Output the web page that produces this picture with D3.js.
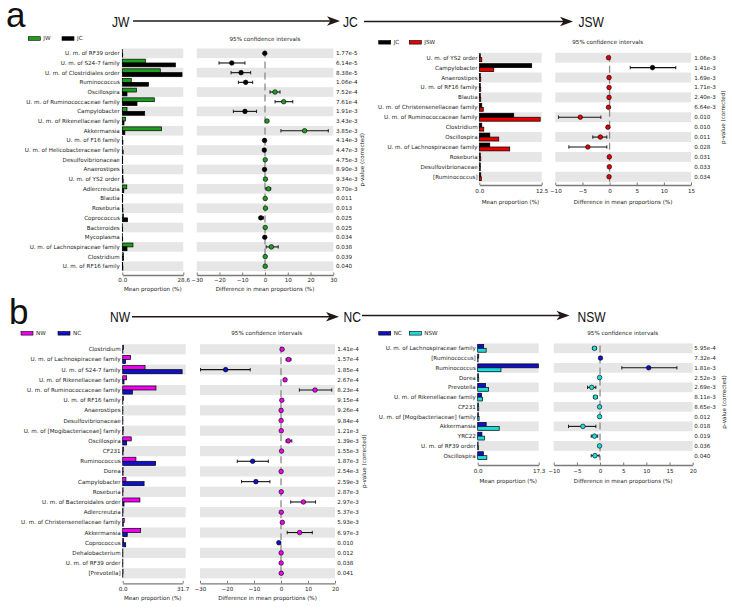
<!DOCTYPE html>
<html>
<head>
<meta charset="utf-8">
<script src="https://cdn.jsdelivr.net/npm/d3@7/dist/d3.min.js"></script>
<style>
body { margin: 0; background: #fff; }
svg text { font-family: "DejaVu Sans", sans-serif; fill: #222; }
</style>
</head>
<body>
<svg id="fig" width="732" height="609"></svg>
<script>
/* data: panel a, JW -> JC */
var aL_taxa = ["U. m. of RF39 order", "U. m. of S24-7 family", "U. m. of Clostridiales order", "Ruminococcus",
	"Oscillospira", "U. m. of Ruminococcaceae family", "Campylobacter", "U. m. of Rikenellaceae family",
	"Akkermansia", "U. m. of F16 family", "U. m. of Helicobacteraceae family", "Desulfovibrionaceae",
	"Anaerostipes", "U. m. of YS2 order", "Adlercreutzia", "Blautia", "Roseburia", "Coprococcus",
	"Bacteroides", "Mycoplasma", "U. m. of Lachnospiraceae family", "Clostridium", "U. m. of RF16 family"];
var aL_JW = [0.05, 10.8, 17.8, 4.2, 6.6, 15.0, 2.2, 1.5, 18.4, 0.05, 0.05, 0.2, 0.1, 0.3, 2.1, 0.2, 0.2, 0.6, 0.1, 0.05, 5.0, 0.5, 0.2];
var aL_JC = [0.2, 24.9, 28.0, 12.3, 2.2, 6.9, 10.5, 0.8, 1.2, 0.3, 0.4, 0.2, 0.3, 0.4, 0.7, 0.2, 0.3, 2.5, 0.2, 0.2, 2.2, 0.6, 0.3];
var aL_diff = [-0.1, -14.6, -10.5, -8.5, 4.4, 8.2, -8.8, 0.9, 17.4, -0.2, -0.3, 0.1, -0.2, 0.2, 1.5, 0.1, 0.2, -1.8, 0.1, -0.1, 2.8, 0.1, 0.1];
var aL_lo = [-0.3, -20.2, -14.9, -11.7, 2.2, 4.4, -13.9, 0.6, 7.0, -0.4, -0.5, 0.0, -0.4, 0.05, 0.4, 0.0, 0.05, -2.6, 0.0, -0.2, 0.5, 0.0, 0.0];
var aL_hi = [0.1, -8.8, -6.3, -5.4, 6.6, 12.2, -3.7, 1.2, 27.8, -0.05, -0.1, 0.2, -0.05, 0.35, 2.5, 0.2, 0.35, -0.7, 0.2, 0.0, 5.8, 0.2, 0.2];
var aL_p = ["1.77e-5", "6.14e-5", "8.38e-5", "1.06e-4", "7.52e-4", "7.61e-4", "1.91e-3", "3.43e-3", "3.85e-3",
	"4.14e-3", "4.47e-3", "4.75e-3", "8.90e-3", "9.34e-3", "9.70e-3", "0.011", "0.013", "0.025", "0.025",
	"0.034", "0.038", "0.039", "0.040"];

/* panel a, JC -> JSW */
var aR_taxa = ["U. m. of YS2 order", "Campylobacter", "Anaerostipes", "U. m. of RF16 family", "Blautia",
	"U. m. of Christensenellaceae family", "U. m. of Ruminococcaceae family", "Clostridium", "Oscillospira",
	"U. m. of Lachnospiraceae family", "Roseburia", "Desulfovibrionaceae", "[Ruminococcus]"];
var aR_JC = [0.2, 10.5, 0.2, 0.2, 0.2, 0.5, 6.9, 0.5, 2.1, 2.1, 0.2, 0.2, 0.3];
var aR_JSW = [0.5, 2.9, 0.3, 0.3, 0.3, 0.8, 12.2, 0.9, 3.9, 6.1, 0.3, 0.2, 0.4];
var aR_diff = [-0.2, 7.9, -0.1, -0.1, -0.1, -0.2, -5.4, -0.3, -1.7, -4.0, -0.05, -0.05, -0.1];
var aR_lo = [-0.35, 3.8, -0.2, -0.2, -0.2, -0.35, -9.4, -0.5, -3.1, -7.5, -0.15, -0.15, -0.2];
var aR_hi = [-0.05, 12.2, 0.0, 0.0, 0.0, -0.05, -1.6, -0.1, -0.5, -0.5, 0.05, 0.05, 0.0];
var aR_p = ["1.06e-3", "1.41e-3", "1.69e-3", "1.71e-3", "2.40e-3", "6.64e-3", "0.010", "0.010", "0.011",
	"0.028", "0.031", "0.033", "0.034"];

/* panel b, NW -> NC */
var bL_taxa = ["Clostridium", "U. m. of Lachnospiraceae family", "U. m. of S24-7 family", "U. m. of Rikenellaceae family",
	"U. m. of Ruminococcaceae family", "U. m. of RF16 family", "Anaerostipes", "Desulfovibrionaceae",
	"U. m. of [Mogibacteriaceae] family", "Oscillospira", "CF231", "Ruminococcus", "Dorea", "Campylobacter",
	"Roseburia", "U. m. of Bacteroidales order", "Adlercreutzia", "U. m. of Christensenellaceae family",
	"Akkermansia", "Coprococcus", "Dehalobacterium", "U. m. of RF39 order", "[Prevotella]"];
var bL_NW = [0.5, 4.2, 11.8, 2.1, 17.6, 0.4, 0.1, 0.1, 0.3, 4.5, 0.4, 7.0, 0.2, 1.7, 0.2, 9.1, 0.2, 0.8, 9.5, 0.5, 0.1, 0.1, 0.2];
var bL_NC = [0.1, 1.5, 31.4, 0.7, 5.1, 0.1, 0.1, 0.1, 0.2, 2.1, 0.2, 17.4, 0.2, 11.3, 0.1, 0.7, 0.1, 0.3, 2.4, 1.6, 0.1, 0.1, 0.1];
var bL_diff = [0.4, 2.8, -20.5, 1.5, 12.6, 0.3, 0.05, 0.05, 0.1, 2.7, 0.2, -10.5, 0.05, -9.3, 0.1, 8.3, 0.1, 0.5, 6.9, -0.8, 0.05, 0.05, 0.1];
var bL_lo = [0.2, 1.9, -29.8, 1.0, 6.8, 0.1, -0.1, -0.1, -0.1, 1.9, 0.0, -16.2, -0.1, -14.6, -0.1, 3.6, -0.1, 0.2, 2.3, -1.2, -0.1, -0.1, -0.1];
var bL_hi = [0.6, 3.7, -11.4, 2.0, 18.8, 0.5, 0.2, 0.2, 0.3, 4.0, 0.4, -4.7, 0.2, -4.1, 0.3, 12.8, 0.3, 0.8, 11.6, -0.4, 0.2, 0.2, 0.3];
var bL_p = ["1.41e-4", "1.57e-4", "1.85e-4", "2.67e-4", "8.23e-4", "9.15e-4", "9.26e-4", "9.84e-4", "1.21e-3",
	"1.39e-3", "1.55e-3", "1.87e-3", "2.54e-3", "2.59e-3", "2.87e-3", "2.97e-3", "5.37e-3", "5.93e-3",
	"6.97e-3", "0.010", "0.012", "0.038", "0.041"];

/* panel b, NC -> NSW */
var bR_taxa = ["U. m. of Lachnospiraceae family", "[Ruminococcus]", "Ruminococcus", "Dorea", "Prevotella",
	"U. m. of Rikenellaceae family", "CF231", "U. m. of [Mogibacteriaceae] family", "Akkermansia", "YRC22",
	"U. m. of RF39 order", "Oscillospira"];
var bR_NC = [1.7, 0.3, 17.2, 0.2, 2.2, 1.1, 0.2, 0.2, 2.4, 1.2, 0.1, 1.6];
var bR_NSW = [2.4, 0.1, 6.6, 0.3, 3.1, 1.4, 0.3, 0.4, 6.1, 1.9, 0.2, 2.6];
var bR_diff = [-1.2, 0.1, 10.5, -0.1, -1.8, -1.0, -0.1, -0.1, -3.7, -1.2, -0.1, -1.1];
var bR_lo = [-1.6, 0.0, 4.7, -0.2, -2.7, -1.4, -0.2, -0.2, -6.8, -1.9, -0.2, -1.9];
var bR_hi = [-0.8, 0.2, 16.6, 0.0, -0.9, -0.6, 0.0, 0.0, -0.9, -0.5, 0.0, -0.2];
var bR_p = ["5.95e-4", "7.32e-4", "1.81e-3", "2.52e-3", "2.69e-3", "8.11e-3", "8.65e-3", "0.012", "0.018",
	"0.019", "0.036", "0.040"];

var svg = d3.select('#fig');

// STAMP-like extended error bar panel
function panel(c) {
	var g = svg.append('g');
	var n = c.taxa.length;
	var y = d3.scaleBand().domain(d3.range(n))
		.range([c.y0 - c.step / 2, c.y0 + (n - 0.5) * c.step]);
	var bw = y.bandwidth();
	var xBar = d3.scaleLinear().domain([0, c.barMax]).range([c.barX0, c.barX1]);
	var xDiff = d3.scaleLinear().domain(c.diffDomain).range([c.diffX0, c.diffX1]);
	var rows = d3.range(n);

	// grey bands on every other row
	var even = rows.filter(function (i) { return i % 2 == 0; });
	g.selectAll('.bandBar').data(even).enter().append('rect')
		.attr('x', c.barX0).attr('width', c.barX1 - c.barX0 + (c.bandExtra || 0))
		.attr('y', function (i) { return y(i); }).attr('height', bw)
		.attr('fill', '#e6e6e6');
	g.selectAll('.bandDiff').data(even).enter().append('rect')
		.attr('x', c.diffX0).attr('width', c.diffX1 - c.diffX0)
		.attr('y', function (i) { return y(i); }).attr('height', bw)
		.attr('fill', '#e6e6e6');

	// taxa labels
	g.selectAll('.lab').data(rows).enter().append('text')
		.attr('x', c.labelX).attr('y', function (i) { return y(i) + bw / 2; })
		.attr('dy', '0.35em').attr('text-anchor', 'end')
		.style('font-size', '5.6px')
		.text(function (i) { return c.taxa[i]; });

	// mean proportion bars
	g.selectAll('.b1').data(rows).enter().append('rect')
		.attr('x', xBar(0)).attr('y', function (i) { return y(i) + bw * 0.1; })
		.attr('width', function (i) { return xBar(c.v1[i]) - xBar(0); })
		.attr('height', bw * 0.4)
		.attr('fill', c.col1).attr('stroke', '#000').attr('stroke-width', 0.7);
	g.selectAll('.b2').data(rows).enter().append('rect')
		.attr('x', xBar(0)).attr('y', function (i) { return y(i) + bw * 0.5; })
		.attr('width', function (i) { return xBar(c.v2[i]) - xBar(0); })
		.attr('height', bw * 0.4)
		.attr('fill', c.col2).attr('stroke', '#000').attr('stroke-width', 0.7);

	// zero line
	g.append('line')
		.attr('x1', xDiff(0)).attr('x2', xDiff(0))
		.attr('y1', y(0) + 2).attr('y2', y(n - 1) + bw)
		.attr('stroke', '#8a8a8a').attr('stroke-width', 1.3)
		.attr('stroke-dasharray', '7,4');

	// confidence intervals
	g.selectAll('.ci').data(rows).enter().append('line')
		.attr('x1', function (i) { return xDiff(c.lo[i]); })
		.attr('x2', function (i) { return xDiff(c.hi[i]); })
		.attr('y1', function (i) { return y(i) + bw / 2; })
		.attr('y2', function (i) { return y(i) + bw / 2; })
		.attr('stroke', '#111').attr('stroke-width', 1.1);
	['lo', 'hi'].forEach(function (k) {
		g.selectAll('.cap' + k).data(rows).enter().append('line')
			.attr('x1', function (i) { return xDiff(c[k][i]); })
			.attr('x2', function (i) { return xDiff(c[k][i]); })
			.attr('y1', function (i) { return y(i) + bw / 2 - 1.7; })
			.attr('y2', function (i) { return y(i) + bw / 2 + 1.7; })
			.attr('stroke', '#111').attr('stroke-width', 0.9);
	});
	g.selectAll('.pt').data(rows).enter().append('circle')
		.attr('cx', function (i) { return xDiff(c.diff[i]); })
		.attr('cy', function (i) { return y(i) + bw / 2; })
		.attr('r', 2.3)
		.attr('fill', function (i) { return c.diff[i] > 0 ? c.col1 : c.col2; })
		.attr('stroke', '#000').attr('stroke-width', 0.6);

	// p-values
	g.selectAll('.pv').data(rows).enter().append('text')
		.attr('x', c.pX).attr('y', function (i) { return y(i) + bw / 2; })
		.attr('dy', '0.35em').style('font-size', '5.6px')
		.text(function (i) { return c.p[i]; });
	var midY = (y(0) + y(n - 1) + bw) / 2;
	g.append('text')
		.attr('transform', 'translate(' + c.pvLabX + ',' + midY + ') rotate(-90)')
		.attr('text-anchor', 'middle').attr('dy', '0.35em')
		.style('font-size', '5.6px')
		.text('p-value (corrected)');

	// axes
	var axBar = d3.axisBottom(xBar).tickValues([0, c.barMax]).tickFormat(d3.format('.1f'))
		.tickSizeInner(-2.5).tickSizeOuter(0).tickPadding(c.tickPad);
	var axDiff = d3.axisBottom(xDiff).tickValues(c.diffTicks).tickFormat(d3.format('d'))
		.tickSizeInner(-2.5).tickSizeOuter(0).tickPadding(c.tickPad);
	[axBar, axDiff].forEach(function (ax) {
		var a = g.append('g').attr('transform', 'translate(0,' + c.axisY + ')').call(ax);
		a.select('.domain').attr('stroke', '#7a7a7a').attr('stroke-width', 1.3);
		a.selectAll('.tick line').attr('stroke', '#7a7a7a').attr('stroke-width', 1);
		a.selectAll('.tick text').attr('fill', '#222')
			.style('font-family', '"DejaVu Sans", sans-serif').style('font-size', '5.6px');
	});
	g.append('text').attr('x', (c.barX0 + c.barX1) / 2).attr('y', c.titleY)
		.attr('dy', '0.35em').attr('text-anchor', 'middle').style('font-size', '5.6px')
		.text('Mean proportion (%)');
	g.append('text').attr('x', (c.diffX0 + c.diffX1) / 2).attr('y', c.titleY)
		.attr('dy', '0.35em').attr('text-anchor', 'middle').style('font-size', '5.6px')
		.text('Difference in mean proportions (%)');
	g.append('text').attr('x', c.ciX).attr('y', c.ciY)
		.attr('dy', '0.35em').attr('text-anchor', 'middle').style('font-size', '5.6px')
		.text('95% confidence intervals');

	// legend
	[[c.name1, c.col1, 0], [c.name2, c.col2, c.legDx]].forEach(function (L) {
		g.append('rect').attr('x', c.legX + L[2]).attr('y', c.legY - 1.8)
			.attr('width', 12).attr('height', 3.6)
			.attr('fill', L[1]).attr('stroke', '#000').attr('stroke-width', 0.6);
		g.append('text').attr('x', c.legX + L[2] + 15).attr('y', c.legY)
			.attr('dy', '0.35em').style('font-size', '5.6px').text(L[0]);
	});
}

var GREEN = '#1e9e1e', BLACK = '#000000', RED = '#e50000', MAGENTA = '#f000f0', BLUE = '#1010c8', CYAN = '#1cdcdc';

panel({ taxa: aL_taxa, v1: aL_JW, v2: aL_JC, diff: aL_diff, lo: aL_lo, hi: aL_hi, p: aL_p,
	name1: 'JW', name2: 'JC', col1: GREEN, col2: BLACK,
	y0: 53.3, step: 9.68, barX0: 122.3, barX1: 183.3, barMax: 28.6,
	diffX0: 196.7, diffX1: 333.3, diffDomain: [-30, 30], diffTicks: [-30, -20, -10, 0, 10, 20, 30],
	pX: 336, labelX: 119.8, axisY: 275, tickPad: 3.5, titleY: 289.5,
	legX: 28.3, legY: 38.5, legDx: 33.7, ciX: 265, ciY: 39, pvLabX: 362.5 });

panel({ taxa: aR_taxa, v1: aR_JC, v2: aR_JSW, diff: aR_diff, lo: aR_lo, hi: aR_hi, p: aR_p,
	name1: 'JC', name2: 'JSW', col1: BLACK, col2: RED,
	y0: 57.7, step: 9.92, barX0: 479.3, barX1: 541.7, barMax: 12.5,
	diffX0: 555.3, diffX1: 691, diffDomain: [-10, 15], diffTicks: [-10, -5, 0, 5, 10, 15],
	pX: 694.3, labelX: 477.6, axisY: 185, tickPad: 4.5, titleY: 202,
	legX: 378.7, legY: 42.3, legDx: 30.6, ciX: 607.7, ciY: 42, pvLabX: 722.7 });

panel({ taxa: bL_taxa, v1: bL_NW, v2: bL_NC, diff: bL_diff, lo: bL_lo, hi: bL_hi, p: bL_p,
	name1: 'NW', name2: 'NC', col1: MAGENTA, col2: BLUE,
	y0: 349.3, step: 10.18, barX0: 122.7, barX1: 182.7, barMax: 31.7, bandExtra: 3,
	diffX0: 200, diffX1: 335, diffDomain: [-30, 20], diffTicks: [-30, -20, -10, 0, 10, 20],
	pX: 337.3, labelX: 120.6, axisY: 583.3, tickPad: 3.8, titleY: 598.3,
	legX: 21, legY: 333.3, legDx: 37, ciX: 266.7, ciY: 333, pvLabX: 364.5 });

panel({ taxa: bR_taxa, v1: bR_NC, v2: bR_NSW, diff: bR_diff, lo: bR_lo, hi: bR_hi, p: bR_p,
	name1: 'NC', name2: 'NSW', col1: BLUE, col2: CYAN,
	y0: 348.3, step: 9.76, barX0: 477.7, barX1: 538.7, barMax: 17.3,
	diffX0: 553.7, diffX1: 692.7, diffDomain: [-10, 20], diffTicks: [-10, -5, 0, 5, 10, 15, 20],
	pX: 694.3, labelX: 475.8, axisY: 465, tickPad: 3.8, titleY: 480.7,
	legX: 378.7, legY: 333.3, legDx: 30.6, ciX: 622.7, ciY: 333, pvLabX: 724 });

/* headers: panel letters and group arrows */
function header(letter, lx, ly, names, xs, arrows, ty, ay) {
	svg.append('text').attr('x', lx).attr('y', ly)
		.style('font-family', '"Liberation Sans", Arial, sans-serif').style('font-size', '35px')
		.style('fill', '#111').text(letter);
	names.forEach(function (nm, i) {
		svg.append('text')
			.attr('transform', 'translate(' + xs[i] + ',' + ty + ') scale(0.83,1)')
			.style('font-family', '"Liberation Sans", Arial, sans-serif').style('font-size', '14.5px')
			.style('fill', '#111').text(nm);
	});
	arrows.forEach(function (a, i) {
		var yy = ay[i];
		svg.append('line').attr('x1', a[0]).attr('x2', a[1] - 8).attr('y1', yy).attr('y2', yy)
			.attr('stroke', '#231815').attr('stroke-width', 1.4);
		svg.append('path')
			.attr('d', 'M' + a[1] + ',' + yy + 'L' + (a[1] - 13) + ',' + (yy - 4.8) +
				'L' + (a[1] - 9.5) + ',' + yy + 'L' + (a[1] - 13) + ',' + (yy + 4.8) + 'Z')
			.attr('fill', '#231815');
	});
}
header('a', 6, 27, ['JW', 'JC', 'JSW'], [112, 343, 578.5], [[133, 340], [364, 573]], 26.5, [21, 21.5]);
header('b', 9, 324, ['NW', 'NC', 'NSW'], [110, 343.5, 577.5], [[132, 339], [362, 569.5]], 321.7, [316.7, 315.5]);
</script>
</body>
</html>
